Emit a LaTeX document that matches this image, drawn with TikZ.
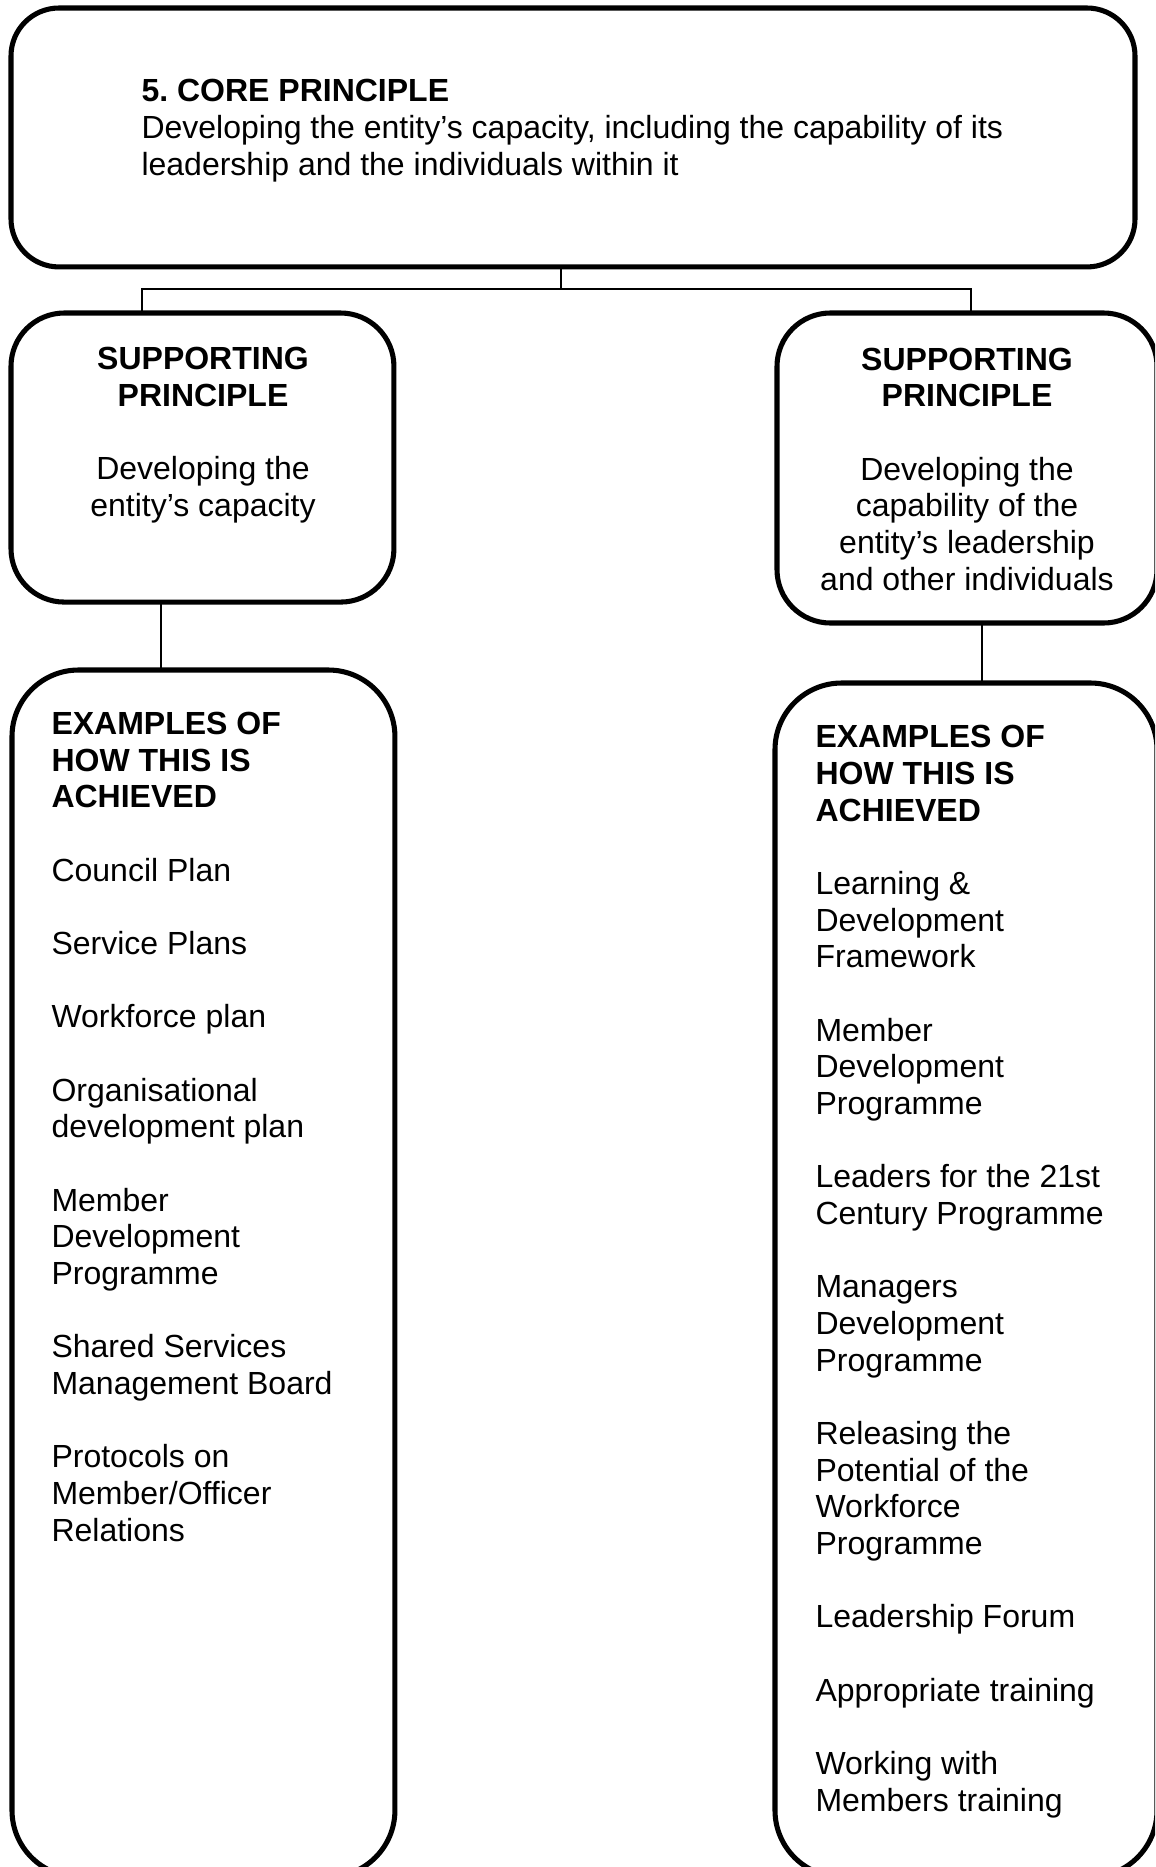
\documentclass[tikz,border=0pt]{standalone}
\usepackage{fontspec}
\setmainfont{Liberation Sans}
\usepackage{tikz}
\frenchspacing

\begin{document}
\begin{tikzpicture}[x=0.375pt, y=-0.375pt,
    box/.style={draw, rectangle, line width=1.9pt, outer sep=0pt, inner sep=0pt, anchor=north west},
    txt/.style={inner sep=0pt, font=\fontsize{12}{13.75}\selectfont},
    link/.style={line width=0.7pt}]
        \clip (0,0) rectangle (1155,1867);
        % boxes
        \node[box, rounded corners=18pt, minimum width=421.5pt, minimum height=97.1pt] (core) at (11,8) {};
        \node[box, rounded corners=20pt, minimum width=143.6pt, minimum height=108.4pt] (capacity) at (11,313) {};
        \node[box, rounded corners=20pt, minimum width=142.5pt, minimum height=116.25pt] (capability) at (777,313) {};
        \node[box, rounded corners=25pt, minimum width=143.6pt, minimum height=452.6pt] (leftex) at (12,670) {};
        \node[box, rounded corners=25pt, minimum width=143.25pt, minimum height=447.75pt] (rightex) at (775,683) {};

        % texts (base = baseline of the last line)
        \node[txt, anchor=base west, align=left] (coretxt) at (141,175)
            {\textbf{5. CORE PRINCIPLE}\\Developing the entity’s capacity, including the capability of its\\leadership and the individuals within it};
        \node[txt, anchor=base, align=center] (capacitytxt) at (203,516)
            {\textbf{SUPPORTING}\\\textbf{PRINCIPLE}\\[13.75pt]Developing the\\entity’s capacity};
        \node[txt, anchor=base, align=center] (capabilitytxt) at (967,590)
            {\textbf{SUPPORTING}\\\textbf{PRINCIPLE}\\[13.75pt]Developing the\\capability of the\\entity’s leadership\\and other individuals};
        \node[txt, anchor=base west, align=left] (leftextxt) at (51,1541)
            {\textbf{EXAMPLES OF}\\\textbf{HOW THIS IS}\\\textbf{ACHIEVED}\\[13.75pt]
             Council Plan\\[13.75pt]
             Service Plans\\[13.75pt]
             Workforce plan\\[13.75pt]
             Organisational\\development plan\\[13.75pt]
             Member\\Development\\Programme\\[13.75pt]
             Shared Services\\Management Board\\[13.75pt]
             Protocols on\\Member/Officer\\Relations};
        \node[txt, anchor=base west, align=left] (rightextxt) at (815,1811)
            {\textbf{EXAMPLES OF}\\\textbf{HOW THIS IS}\\\textbf{ACHIEVED}\\[13.75pt]
             Learning \&\\Development\\Framework\\[13.75pt]
             Member\\Development\\Programme\\[13.75pt]
             Leaders for the 21st\\Century Programme\\[13.75pt]
             Managers\\Development\\Programme\\[13.75pt]
             Releasing the\\Potential of the\\Workforce\\Programme\\[13.75pt]
             Leadership Forum\\[13.75pt]
             Appropriate training\\[13.75pt]
             Working with\\Members training};

        % connectors
        \coordinate (fork) at (561,289);
        \coordinate (ldrop) at (142,0);
        \coordinate (rdrop) at (971,0);
        \coordinate (lstem) at (161,0);
        \coordinate (rstem) at (982,0);
        \draw[link] (core.south -| fork) -- (fork);
        \draw[link] (capacity.north -| ldrop) |- (fork) -| (capability.north -| rdrop);
        \draw[link] (capacity.south -| lstem) -- (leftex.north -| lstem);
        \draw[link] (capability.south -| rstem) -- (rightex.north -| rstem);
\end{tikzpicture}
\end{document}
